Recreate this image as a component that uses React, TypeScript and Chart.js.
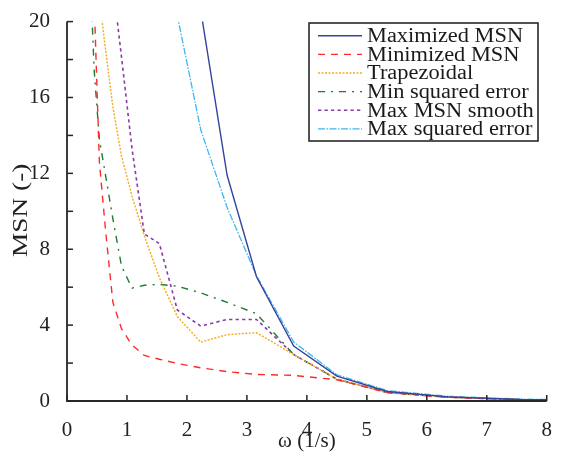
import React, { useEffect, useRef } from "react";
import { Chart, registerables } from "chart.js";

Chart.register(...registerables);

const omega = [0.38, 0.454, 0.54, 0.643, 0.765, 0.91, 1.084, 1.29, 1.54, 1.84, 2.23, 2.67, 3.16, 3.78, 4.5, 5.34, 6.35, 7.55, 9.0];

const maximizedMSN = [null, null, null, null, null, null, null, null, null, 32, 20.6, 11.9, 6.55, 2.9, 1.31, 0.5, 0.22, 0.08, 0.03];
const minimizedMSN = [30, 21, 12.6, 9.0, 5.2, 3.8, 2.95, 2.4, 2.2, 1.98, 1.75, 1.55, 1.4, 1.35, 1.12, 0.45, 0.2, 0.07, 0.03];
const trapezoidal = [null, null, 21.2, 18.5, 15.5, 12.9, 10.8, 8.7, 6.5, 4.45, 3.1, 3.5, 3.6, 2.45, 1.15, 0.45, 0.2, 0.07, 0.03];
const minSquaredError = [23, 17.4, 13.8, 11.9, 9.6, 7.1, 5.95, 6.1, 6.15, 6.05, 5.7, 5.2, 4.6, 2.45, 1.15, 0.45, 0.2, 0.07, 0.03];
const maxMSNSmooth = [null, null, null, null, 22, 18.1, 13.3, 8.8, 8.3, 4.8, 3.95, 4.3, 4.3, 2.45, 1.15, 0.45, 0.2, 0.07, 0.03];
const maxSquaredError = [null, null, null, null, null, null, null, null, 27, 20.3, 14.3, 10.2, 6.6, 3.11, 1.38, 0.55, 0.25, 0.1, 0.04];

const seriesNames = ["Maximized MSN", "Minimized MSN", "Trapezoidal", "Min squared error", "Max MSN smooth", "Max squared error"];
const xTitle = "ω (1/s)";
const yTitle = "MSN (-)";

const FONT = "'Liberation Serif', 'Times New Roman', serif";

export default function App() {
  const ref = useRef<HTMLCanvasElement | null>(null);

  useEffect(() => {
    const canvas = ref.current;
    if (!canvas) return;
    const allSeries = [maximizedMSN, minimizedMSN, trapezoidal, minSquaredError, maxMSNSmooth, maxSquaredError];
    const styles = [
      { color: "#34449e", dash: [] as number[], width: 1.4 },
      { color: "#ff2a2a", dash: [7, 6], width: 1.4 },
      { color: "#f2ac1e", dash: [2, 1.5], width: 1.4 },
      { color: "#1f7a32", dash: [7, 6, 2, 6], width: 1.4 },
      { color: "#8a3aa6", dash: [3.3, 3.2], width: 1.6 },
      { color: "#3fb6ee", dash: [7, 1.5, 1.5, 1.5], width: 1.3 },
    ];

    const datasets = allSeries.map((arr, i) => ({
      label: seriesNames[i],
      data: omega.map((x, j) => ({ x, y: arr[j] })),
      borderColor: styles[i].color,
      backgroundColor: styles[i].color,
      borderDash: styles[i].dash,
      borderWidth: styles[i].width,
      pointRadius: 0,
      tension: 0,
      fill: false,
      spanGaps: false,
    }));

    const axesPlugin = {
      id: "axesPlugin",
      afterDraw(chart: any) {
        const ctx = chart.ctx;
        const xs = chart.scales.x;
        const ys = chart.scales.y;
        const area = chart.chartArea;
        ctx.save();
        ctx.strokeStyle = "#262626";
        ctx.lineWidth = 1.8;
        ctx.setLineDash([]);
        ctx.beginPath();
        ctx.moveTo(area.left, area.top);
        ctx.lineTo(area.left, area.bottom);
        ctx.lineTo(area.right, area.bottom);
        ctx.stroke();
        ctx.lineWidth = 1.5;
        ys.ticks.forEach((t: any) => {
          const y = ys.getPixelForValue(t.value);
          ctx.beginPath();
          ctx.moveTo(area.left, y);
          ctx.lineTo(area.left + 6, y);
          ctx.stroke();
        });
        xs.ticks.forEach((t: any) => {
          const x = xs.getPixelForValue(t.value);
          ctx.beginPath();
          ctx.moveTo(x, area.bottom);
          ctx.lineTo(x, area.bottom - 6);
          ctx.stroke();
        });

        // y-axis title
        ctx.save();
        ctx.translate(21, (area.top + area.bottom) / 2 - 1);
        ctx.rotate(-Math.PI / 2);
        ctx.scale(1.3, 1);
        ctx.font = `21px ${FONT}`;
        ctx.fillStyle = "#222";
        ctx.textAlign = "center";
        ctx.textBaseline = "middle";
        ctx.fillText(yTitle, 0, 0);
        ctx.restore();

        // legend
        const bx = 309, by = 23, bw = 229, bh = 118;
        ctx.fillStyle = "#ffffff";
        ctx.fillRect(bx, by, bw, bh);
        ctx.strokeStyle = "#1a1a1a";
        ctx.lineWidth = 1.5;
        ctx.strokeRect(bx, by, bw, bh);
        seriesNames.forEach((name, i) => {
          const y = 35.7 + i * 18.65;
          ctx.strokeStyle = styles[i].color;
          ctx.lineWidth = styles[i].width;
          ctx.setLineDash(styles[i].dash);
          ctx.beginPath();
          ctx.moveTo(318, y);
          ctx.lineTo(362, y);
          ctx.stroke();
          ctx.setLineDash([]);
          ctx.save();
          ctx.translate(367, y + 1);
          ctx.scale(1.12, 1);
          ctx.font = `20px ${FONT}`;
          ctx.textBaseline = "middle";
          ctx.textAlign = "left";
          ctx.fillStyle = "#1a1a1a";
          ctx.fillText(name, 0, 0);
          ctx.restore();
        });
        ctx.restore();
      },
    };

    const chart = new Chart(canvas, {
      type: "line",
      data: { datasets: datasets as any },
      plugins: [axesPlugin],
      options: {
        animation: false,
        responsive: false,
        devicePixelRatio: 1,
        layout: { padding: { top: 20, right: 10, left: 0, bottom: 0 } },
        plugins: { legend: { display: false }, tooltip: { enabled: false } },
        scales: {
          x: {
            type: "linear",
            min: 0,
            max: 8,
            grid: { display: false },
            border: { display: false },
            ticks: {
              stepSize: 1,
              padding: 9,
              color: "#222",
              font: { family: FONT, size: 21 },
              maxRotation: 0,
            },
            title: {
              display: true,
              text: xTitle,
              color: "#222",
              font: { family: FONT, size: 21 },
              padding: { top: 0, bottom: 3 },
            },
            afterFit(scale: any) {
              scale.height = 56;
            },
          },
          y: {
            type: "linear",
            min: 0,
            max: 20,
            grid: { display: false },
            border: { display: false },
            ticks: {
              stepSize: 2,
              padding: 9,
              color: "#222",
              font: { family: FONT, size: 21 },
              callback: (v: any) => (Number(v) % 4 === 0 ? String(v) : ""),
            },
            title: { display: false },
            afterFit(scale: any) {
              scale.width = 67;
            },
          },
        },
      },
    });
    return () => chart.destroy();
  }, []);

  return (
    <div style={{ position: "fixed", left: 0, top: 0, width: 561, height: 457, background: "#fff" }}>
      <canvas ref={ref} width={561} height={457} style={{ display: "block", width: 561, height: 457 }} />
    </div>
  );
}
